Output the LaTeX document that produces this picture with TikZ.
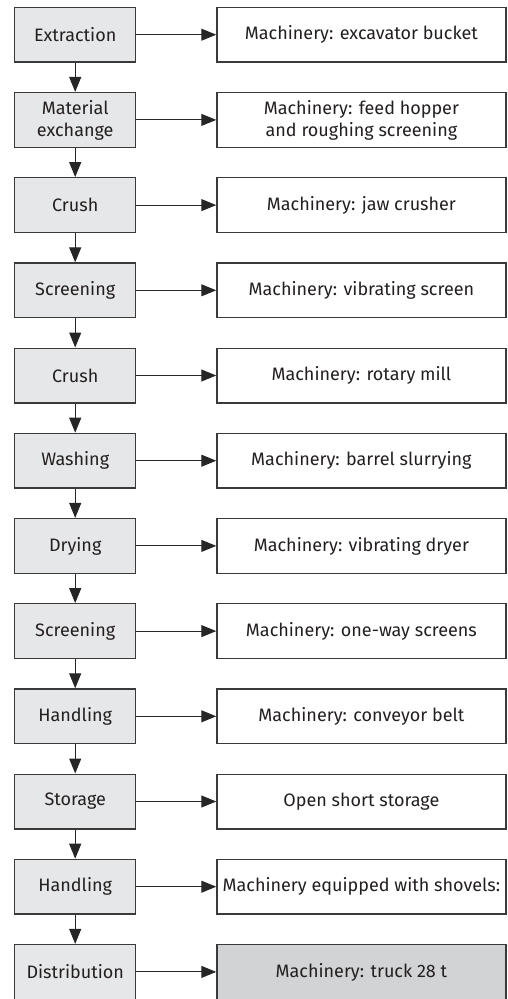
\documentclass[tikz,border=0pt]{standalone}
\usepackage{fontspec}
\setmainfont{Fira Sans}
\usetikzlibrary{arrows.meta}
\definecolor{leftfill}{HTML}{E6E7E8}
\definecolor{darkfill}{HTML}{D1D3D4}
\definecolor{edge}{HTML}{3A3A3A}
\definecolor{txt}{HTML}{231F20}
\tikzset{
  stepbox/.style={draw=edge, line width=1.3pt, fill=leftfill, text=txt, minimum width=121pt, minimum height=54.7pt, inner sep=0pt, align=center, font=\fontsize{18pt}{22pt}\selectfont},
  machbox/.style={draw=edge, line width=1.3pt, fill=white, text=txt, minimum width=289pt, minimum height=54.7pt, inner sep=0pt, align=center, font=\fontsize{18pt}{22pt}\selectfont},
  conn/.style={draw=black!85, line width=1.1pt, -{Triangle[length=15pt,width=12pt]}}
}
\begin{document}
\begin{tikzpicture}[x=1pt,y=1pt]
\useasboundingbox (0,0) rectangle (508,-999);
\node[stepbox] (s0) at (75.2,{-34.7-0*85.2}) {Extraction};
\node[stepbox] (s1) at (75.2,{-34.7-1*85.2}) {Material\\exchange};
\node[stepbox] (s2) at (75.2,{-34.7-2*85.2}) {Crush};
\node[stepbox] (s3) at (75.2,{-34.7-3*85.2}) {Screening};
\node[stepbox] (s4) at (75.2,{-34.7-4*85.2}) {Crush};
\node[stepbox] (s5) at (75.2,{-34.7-5*85.2}) {Washing};
\node[stepbox] (s6) at (75.2,{-34.7-6*85.2}) {Drying};
\node[stepbox] (s7) at (75.2,{-34.7-7*85.2}) {Screening};
\node[stepbox] (s8) at (75.2,{-34.7-8*85.2}) {Handling};
\node[stepbox] (s9) at (75.2,{-34.7-9*85.2}) {Storage};
\node[stepbox] (s10) at (75.2,{-34.7-10*85.2}) {Handling};
\node[stepbox] (s11) at (75.2,{-34.7-11*85.2}) {Distribution};

\node[machbox] (m0) at (361.4,{-34.7-0*85.2}) {Machinery: excavator bucket};
\node[machbox] (m1) at (361.4,{-34.7-1*85.2}) {Machinery: feed hopper\\and roughing screening};
\node[machbox] (m2) at (361.4,{-34.7-2*85.2}) {Machinery: jaw crusher};
\node[machbox] (m3) at (361.4,{-34.7-3*85.2}) {Machinery: vibrating screen};
\node[machbox] (m4) at (361.4,{-34.7-4*85.2}) {Machinery: rotary mill};
\node[machbox] (m5) at (361.4,{-34.7-5*85.2}) {Machinery: barrel slurrying};
\node[machbox] (m6) at (361.4,{-34.7-6*85.2}) {Machinery: vibrating dryer};
\node[machbox] (m7) at (361.4,{-34.7-7*85.2}) {Machinery: one-way screens};
\node[machbox] (m8) at (361.4,{-34.7-8*85.2}) {Machinery: conveyor belt};
\node[machbox] (m9) at (361.4,{-34.7-9*85.2}) {Open short storage};
\node[machbox] (m10) at (361.4,{-34.7-10*85.2}) {Machinery equipped with shovels:};
\node[machbox, fill=darkfill] (m11) at (361.4,{-34.7-11*85.2}) {Machinery: truck 28 t};

\foreach \i in {0,...,11} {
  \draw[conn] (s\i.east) -- (m\i.west);
}
\foreach \i [evaluate=\i as \j using int(\i+1)] in {0,...,10} {
  \draw[conn] (s\i.south) -- (s\j.north);
}
\end{tikzpicture}
\end{document}
